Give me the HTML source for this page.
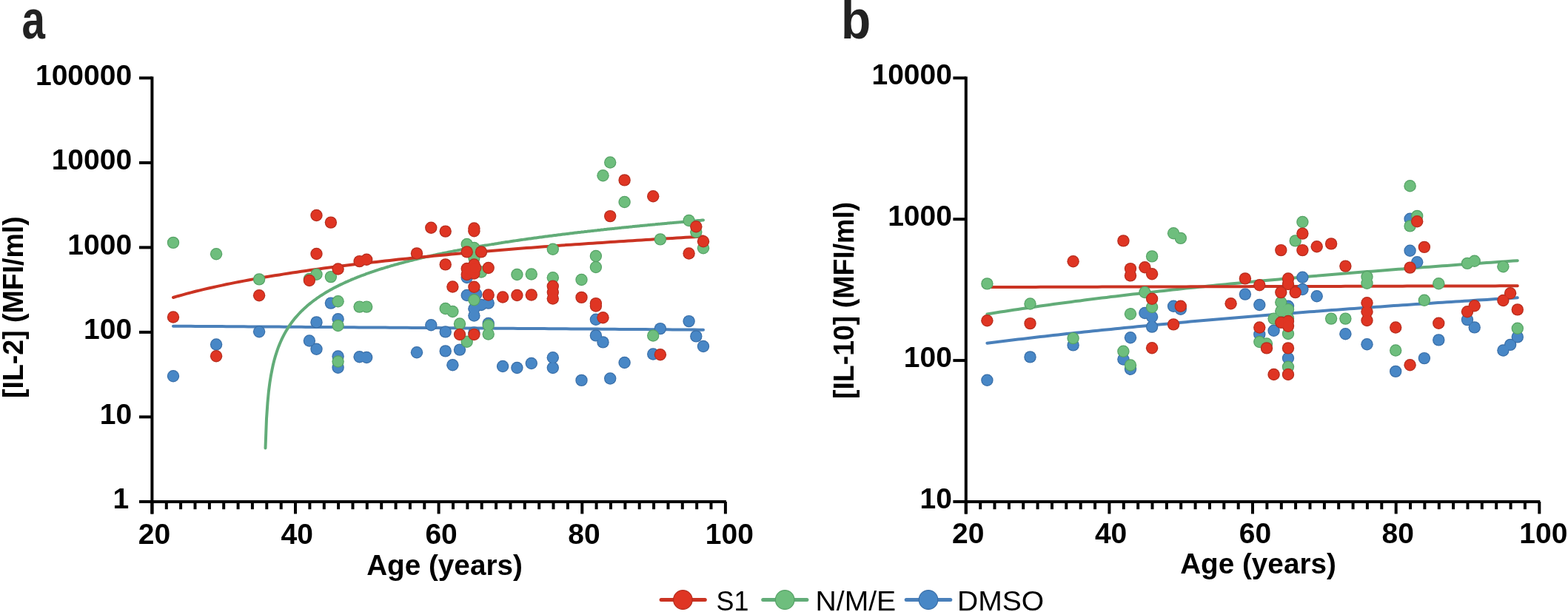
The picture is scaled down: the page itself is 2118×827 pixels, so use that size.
<!DOCTYPE html>
<html><head><meta charset="utf-8"><title>IL-2 and IL-10 vs Age</title>
<style>
html,body{margin:0;padding:0;background:#fff;width:2118px;height:827px;overflow:hidden}
svg{display:block}
.ax{stroke:#000;stroke-width:4;fill:none}
.tk{font-family:"Liberation Sans",Arial,sans-serif;font-weight:bold;font-size:39.0px;fill:#000}
.tx{font-family:"Liberation Sans",Arial,sans-serif;font-weight:bold;font-size:39.0px;fill:#000}
.ti{font-family:"Liberation Sans",Arial,sans-serif;font-weight:bold;font-size:39.0px;fill:#000}
.pl{font-family:"Liberation Sans",Arial,sans-serif;font-weight:bold;font-size:74.0px;fill:#222}
.lg{font-family:"Liberation Sans",Arial,sans-serif;font-size:37.0px;fill:#000}
</style></head><body>
<svg width="2118" height="827" viewBox="0 0 2118 827">
<text transform="translate(29.50 52) scale(0.764 1)" class="pl">a</text>
<text transform="translate(1136.00 52) scale(0.890 1)" class="pl">b</text>
<path d="M205.4 103.6 V694.4" class="ax"/><path d="M188.0 105.4 H205.4" class="ax"/><text x="178.1" y="114.6" class="tk" text-anchor="end">100000</text><path d="M188.0 219.9 H205.4" class="ax"/><text x="178.1" y="229.1" class="tk" text-anchor="end">10000</text><path d="M188.0 334.4 H205.4" class="ax"/><text x="178.1" y="343.6" class="tk" text-anchor="end">1000</text><path d="M188.0 448.9 H205.4" class="ax"/><text x="178.1" y="458.1" class="tk" text-anchor="end">100</text><path d="M188.0 563.4 H205.4" class="ax"/><text x="178.1" y="572.6" class="tk" text-anchor="end">10</text><path d="M188.0 677.9 H205.4" class="ax"/><text x="174.1" y="687.1" class="tk" text-anchor="end">1</text><path d="M203.6 677.9 H980.9" class="ax"/><path d="M205.4 677.9 V694.4" class="ax"/><path d="M224.8 677.9 V688.2" class="ax"/><path d="M244.1 677.9 V688.2" class="ax"/><path d="M263.5 677.9 V688.2" class="ax"/><path d="M282.9 677.9 V688.2" class="ax"/><path d="M302.2 677.9 V688.2" class="ax"/><path d="M321.6 677.9 V688.2" class="ax"/><path d="M340.9 677.9 V688.2" class="ax"/><path d="M360.3 677.9 V688.2" class="ax"/><path d="M379.7 677.9 V688.2" class="ax"/><path d="M399.0 677.9 V694.4" class="ax"/><path d="M418.4 677.9 V688.2" class="ax"/><path d="M437.8 677.9 V688.2" class="ax"/><path d="M457.1 677.9 V688.2" class="ax"/><path d="M476.5 677.9 V688.2" class="ax"/><path d="M495.8 677.9 V688.2" class="ax"/><path d="M515.2 677.9 V688.2" class="ax"/><path d="M534.6 677.9 V688.2" class="ax"/><path d="M553.9 677.9 V688.2" class="ax"/><path d="M573.3 677.9 V688.2" class="ax"/><path d="M592.6 677.9 V694.4" class="ax"/><path d="M612.0 677.9 V688.2" class="ax"/><path d="M631.4 677.9 V688.2" class="ax"/><path d="M650.7 677.9 V688.2" class="ax"/><path d="M670.1 677.9 V688.2" class="ax"/><path d="M689.5 677.9 V688.2" class="ax"/><path d="M708.8 677.9 V688.2" class="ax"/><path d="M728.2 677.9 V688.2" class="ax"/><path d="M747.5 677.9 V688.2" class="ax"/><path d="M766.9 677.9 V688.2" class="ax"/><path d="M786.3 677.9 V694.4" class="ax"/><path d="M805.6 677.9 V688.2" class="ax"/><path d="M825.0 677.9 V688.2" class="ax"/><path d="M844.4 677.9 V688.2" class="ax"/><path d="M863.7 677.9 V688.2" class="ax"/><path d="M883.1 677.9 V688.2" class="ax"/><path d="M902.5 677.9 V688.2" class="ax"/><path d="M921.8 677.9 V688.2" class="ax"/><path d="M941.2 677.9 V688.2" class="ax"/><path d="M960.5 677.9 V688.2" class="ax"/><path d="M979.9 677.9 V694.4" class="ax"/><text x="208.4" y="735.0" class="tx" text-anchor="middle">20</text><text x="401.2" y="735.0" class="tx" text-anchor="middle">40</text><text x="596.1" y="735.0" class="tx" text-anchor="middle">60</text><text x="788.9" y="735.0" class="tx" text-anchor="middle">80</text><text x="985.4" y="735.0" class="tx" text-anchor="middle">100</text>
<path d="M1304.8 103.6 V694.4" class="ax"/><path d="M1287.4 105.4 H1304.8" class="ax"/><text x="1285.9" y="114.0" class="tk" text-anchor="end">10000</text><path d="M1287.4 296.2 H1304.8" class="ax"/><text x="1285.9" y="304.8" class="tk" text-anchor="end">1000</text><path d="M1287.4 487.1 H1304.8" class="ax"/><text x="1285.9" y="495.7" class="tk" text-anchor="end">100</text><path d="M1287.4 677.9 H1304.8" class="ax"/><text x="1285.9" y="686.5" class="tk" text-anchor="end">10</text><path d="M1303.0 677.9 H2080.3" class="ax"/><path d="M1304.8 677.9 V694.4" class="ax"/><path d="M1324.2 677.9 V688.2" class="ax"/><path d="M1343.5 677.9 V688.2" class="ax"/><path d="M1362.9 677.9 V688.2" class="ax"/><path d="M1382.2 677.9 V688.2" class="ax"/><path d="M1401.6 677.9 V688.2" class="ax"/><path d="M1421.0 677.9 V688.2" class="ax"/><path d="M1440.3 677.9 V688.2" class="ax"/><path d="M1459.7 677.9 V688.2" class="ax"/><path d="M1479.1 677.9 V688.2" class="ax"/><path d="M1498.4 677.9 V694.4" class="ax"/><path d="M1517.8 677.9 V688.2" class="ax"/><path d="M1537.2 677.9 V688.2" class="ax"/><path d="M1556.5 677.9 V688.2" class="ax"/><path d="M1575.9 677.9 V688.2" class="ax"/><path d="M1595.2 677.9 V688.2" class="ax"/><path d="M1614.6 677.9 V688.2" class="ax"/><path d="M1634.0 677.9 V688.2" class="ax"/><path d="M1653.3 677.9 V688.2" class="ax"/><path d="M1672.7 677.9 V688.2" class="ax"/><path d="M1692.0 677.9 V694.4" class="ax"/><path d="M1711.4 677.9 V688.2" class="ax"/><path d="M1730.8 677.9 V688.2" class="ax"/><path d="M1750.1 677.9 V688.2" class="ax"/><path d="M1769.5 677.9 V688.2" class="ax"/><path d="M1788.9 677.9 V688.2" class="ax"/><path d="M1808.2 677.9 V688.2" class="ax"/><path d="M1827.6 677.9 V688.2" class="ax"/><path d="M1846.9 677.9 V688.2" class="ax"/><path d="M1866.3 677.9 V688.2" class="ax"/><path d="M1885.7 677.9 V694.4" class="ax"/><path d="M1905.0 677.9 V688.2" class="ax"/><path d="M1924.4 677.9 V688.2" class="ax"/><path d="M1943.8 677.9 V688.2" class="ax"/><path d="M1963.1 677.9 V688.2" class="ax"/><path d="M1982.5 677.9 V688.2" class="ax"/><path d="M2001.8 677.9 V688.2" class="ax"/><path d="M2021.2 677.9 V688.2" class="ax"/><path d="M2040.6 677.9 V688.2" class="ax"/><path d="M2059.9 677.9 V688.2" class="ax"/><path d="M2079.3 677.9 V694.4" class="ax"/><text x="1307.8" y="733.8" class="tx" text-anchor="middle">20</text><text x="1500.6" y="733.8" class="tx" text-anchor="middle">40</text><text x="1695.5" y="733.8" class="tx" text-anchor="middle">60</text><text x="1888.3" y="733.8" class="tx" text-anchor="middle">80</text><text x="2084.8" y="733.8" class="tx" text-anchor="middle">100</text>
<text x="600.5" y="776.5" class="ti" style="font-size:38.7px" text-anchor="middle">Age (years)</text>
<text x="1699.5" y="774.6" class="ti" style="font-size:38.7px" text-anchor="middle">Age (years)</text>
<text transform="translate(30.6 537.9) rotate(-90) scale(0.9610 1)" class="ti">[IL-2] (MFI/ml)</text>
<text transform="translate(1153.2 539.1) rotate(-90) scale(0.9610 1)" class="ti">[IL-10] (MFI/ml)</text>
<g fill="none" stroke-width="4.0" stroke-linecap="round">
<path d="M234.0,440.7 L240.0,440.7 L246.0,440.8 L251.9,440.8 L257.9,440.8 L263.9,440.9 L269.8,440.9 L275.8,441.0 L281.8,441.0 L287.7,441.0 L293.7,441.1 L299.7,441.1 L305.6,441.2 L311.6,441.2 L317.6,441.2 L323.5,441.3 L329.5,441.3 L335.5,441.4 L341.4,441.4 L347.4,441.4 L353.4,441.5 L359.3,441.5 L365.3,441.6 L371.2,441.6 L377.2,441.6 L383.2,441.7 L389.1,441.7 L395.1,441.8 L401.1,441.8 L407.0,441.8 L413.0,441.9 L419.0,441.9 L424.9,442.0 L430.9,442.0 L436.9,442.0 L442.8,442.1 L448.8,442.1 L454.8,442.2 L460.7,442.2 L466.7,442.3 L472.7,442.3 L478.6,442.3 L484.6,442.4 L490.6,442.4 L496.5,442.5 L502.5,442.5 L508.5,442.5 L514.4,442.6 L520.4,442.6 L526.4,442.7 L532.3,442.7 L538.3,442.7 L544.3,442.8 L550.2,442.8 L556.2,442.9 L562.2,442.9 L568.1,443.0 L574.1,443.0 L580.1,443.0 L586.0,443.1 L592.0,443.1 L598.0,443.2 L603.9,443.2 L609.9,443.2 L615.9,443.3 L621.8,443.3 L627.8,443.4 L633.8,443.4 L639.7,443.5 L645.7,443.5 L651.7,443.5 L657.6,443.6 L663.6,443.6 L669.6,443.7 L675.5,443.7 L681.5,443.8 L687.5,443.8 L693.4,443.8 L699.4,443.9 L705.4,443.9 L711.3,444.0 L717.3,444.0 L723.3,444.1 L729.2,444.1 L735.2,444.1 L741.2,444.2 L747.1,444.2 L753.1,444.3 L759.1,444.3 L765.0,444.3 L771.0,444.4 L777.0,444.4 L782.9,444.5 L788.9,444.5 L794.9,444.6 L800.8,444.6 L806.8,444.6 L812.8,444.7 L818.7,444.7 L824.7,444.8 L830.6,444.8 L836.6,444.9 L842.6,444.9 L848.5,445.0 L854.5,445.0 L860.5,445.0 L866.4,445.1 L872.4,445.1 L878.4,445.2 L884.3,445.2 L890.3,445.3 L896.3,445.3 L902.2,445.3 L908.2,445.4 L914.2,445.4 L920.1,445.5 L926.1,445.5 L932.1,445.6 L938.0,445.6 L944.0,445.7 L950.0,445.7" stroke="#4A80BA"/>
<path d="M358.5,605.5 L360.0,565.8 L361.5,544.0 L362.9,528.9 L364.4,517.3 L365.9,507.9 L367.4,500.1 L368.8,493.3 L370.3,487.3 L371.8,481.9 L373.3,477.1 L374.8,472.7 L376.2,468.7 L377.7,464.9 L379.2,461.5 L380.7,458.2 L382.2,455.2 L383.6,452.3 L385.1,449.6 L386.6,447.0 L388.1,444.6 L389.5,442.2 L391.0,440.0 L392.5,437.9 L394.0,435.8 L395.5,433.8 L396.9,432.0 L398.4,430.1 L399.9,428.4 L401.4,426.7 L402.9,425.0 L404.3,423.5 L405.8,421.9 L407.3,420.4 L408.8,419.0 L410.2,417.6 L411.7,416.2 L413.2,414.9 L414.7,413.6 L416.2,412.3 L417.6,411.1 L419.1,409.9 L420.6,408.7 L422.1,407.5 L423.6,406.4 L425.0,405.3 L426.5,404.3 L428.0,403.2 L429.5,402.2 L431.0,401.2 L432.4,400.2 L433.9,399.2 L435.4,398.3 L436.9,397.3 L438.3,396.4 L439.8,395.5 L441.3,394.6 L442.8,393.8 L444.3,392.9 L445.7,392.1 L447.2,391.2 L448.7,390.4 L450.2,389.6 L451.7,388.8 L453.1,388.1 L454.6,387.3 L456.1,386.6 L457.6,385.8 L459.0,385.1 L460.5,384.4 L462.0,383.7 L463.5,383.0 L465.0,382.3 L466.4,381.6 L467.9,380.9 L469.4,380.3 L470.9,379.6 L472.4,379.0 L473.8,378.4 L475.3,377.7 L476.8,377.1 L478.3,376.5 L479.7,375.9 L481.2,375.3 L482.7,374.7 L484.2,374.1 L485.7,373.5 L487.1,373.0 L488.6,372.4 L490.1,371.9 L491.6,371.3 L493.1,370.8 L494.5,370.2 L496.0,369.7 L497.5,369.2 L499.0,368.6 L500.4,368.1 L501.9,367.6 L503.4,367.1 L504.9,366.6 L506.4,366.1 L507.8,365.6 L509.3,365.1 L510.8,364.7 L512.3,364.2 L513.8,363.7 L515.2,363.2 L516.7,362.8 L518.2,362.3 L519.7,361.9 L521.2,361.4 L522.6,361.0 L524.1,360.5 L525.6,360.1 L527.1,359.6 L528.5,359.2 L530.0,358.8 L531.5,358.4 L533.0,357.9 L534.5,357.5 L535.9,357.1 L537.4,356.7 L538.9,356.3 L540.4,355.9 L541.9,355.5 L543.3,355.1 L544.8,354.7 L546.3,354.3 L547.8,353.9 L549.2,353.5 L550.7,353.2 L552.2,352.8 L553.7,352.4 L555.2,352.0 L556.6,351.7 L558.1,351.3 L559.6,350.9 L561.1,350.6 L562.6,350.2 L564.0,349.8 L565.5,349.5 L567.0,349.1 L568.5,348.8 L569.9,348.4 L571.4,348.1 L572.9,347.8 L574.4,347.4 L575.9,347.1 L577.3,346.7 L578.8,346.4 L580.3,346.1 L581.8,345.8 L583.3,345.4 L584.7,345.1 L586.2,344.8 L587.7,344.5 L589.2,344.1 L590.7,343.8 L592.1,343.5 L593.6,343.2 L595.1,342.9 L596.6,342.6 L598.0,342.3 L599.5,342.0 L601.0,341.7 L602.5,341.4 L604.0,341.1 L605.4,340.8 L606.9,340.5 L608.4,340.2 L609.9,339.9 L611.4,339.6 L612.8,339.3 L614.3,339.0 L615.8,338.7 L617.3,338.5 L618.7,338.2 L620.2,337.9 L621.7,337.6 L623.2,337.3 L624.7,337.1 L626.1,336.8 L627.6,336.5 L629.1,336.2 L630.6,336.0 L632.1,335.7 L633.5,335.4 L635.0,335.2 L636.5,334.9 L638.0,334.6 L639.4,334.4 L640.9,334.1 L642.4,333.9 L643.9,333.6 L645.4,333.4 L646.8,333.1 L648.3,332.8 L649.8,332.6 L651.3,332.3 L652.8,332.1 L654.2,331.8 L655.7,331.6 L657.2,331.4 L658.7,331.1 L660.1,330.9 L661.6,330.6 L663.1,330.4 L664.6,330.1 L666.1,329.9 L667.5,329.7 L669.0,329.4 L670.5,329.2 L672.0,329.0 L673.5,328.7 L674.9,328.5 L676.4,328.3 L677.9,328.0 L679.4,327.8 L680.9,327.6 L682.3,327.3 L683.8,327.1 L685.3,326.9 L686.8,326.7 L688.2,326.5 L689.7,326.2 L691.2,326.0 L692.7,325.8 L694.2,325.6 L695.6,325.4 L697.1,325.1 L698.6,324.9 L700.1,324.7 L701.6,324.5 L703.0,324.3 L704.5,324.1 L706.0,323.9 L707.5,323.6 L708.9,323.4 L710.4,323.2 L711.9,323.0 L713.4,322.8 L714.9,322.6 L716.3,322.4 L717.8,322.2 L719.3,322.0 L720.8,321.8 L722.3,321.6 L723.7,321.4 L725.2,321.2 L726.7,321.0 L728.2,320.8 L729.6,320.6 L731.1,320.4 L732.6,320.2 L734.1,320.0 L735.6,319.8 L737.0,319.6 L738.5,319.4 L740.0,319.2 L741.5,319.0 L743.0,318.8 L744.4,318.7 L745.9,318.5 L747.4,318.3 L748.9,318.1 L750.4,317.9 L751.8,317.7 L753.3,317.5 L754.8,317.3 L756.3,317.2 L757.7,317.0 L759.2,316.8 L760.7,316.6 L762.2,316.4 L763.7,316.2 L765.1,316.1 L766.6,315.9 L768.1,315.7 L769.6,315.5 L771.1,315.3 L772.5,315.2 L774.0,315.0 L775.5,314.8 L777.0,314.6 L778.4,314.5 L779.9,314.3 L781.4,314.1 L782.9,313.9 L784.4,313.8 L785.8,313.6 L787.3,313.4 L788.8,313.3 L790.3,313.1 L791.8,312.9 L793.2,312.8 L794.7,312.6 L796.2,312.4 L797.7,312.2 L799.1,312.1 L800.6,311.9 L802.1,311.7 L803.6,311.6 L805.1,311.4 L806.5,311.3 L808.0,311.1 L809.5,310.9 L811.0,310.8 L812.5,310.6 L813.9,310.4 L815.4,310.3 L816.9,310.1 L818.4,310.0 L819.8,309.8 L821.3,309.6 L822.8,309.5 L824.3,309.3 L825.8,309.2 L827.2,309.0 L828.7,308.9 L830.2,308.7 L831.7,308.5 L833.2,308.4 L834.6,308.2 L836.1,308.1 L837.6,307.9 L839.1,307.8 L840.6,307.6 L842.0,307.5 L843.5,307.3 L845.0,307.2 L846.5,307.0 L847.9,306.9 L849.4,306.7 L850.9,306.6 L852.4,306.4 L853.9,306.3 L855.3,306.1 L856.8,306.0 L858.3,305.8 L859.8,305.7 L861.3,305.5 L862.7,305.4 L864.2,305.2 L865.7,305.1 L867.2,305.0 L868.6,304.8 L870.1,304.7 L871.6,304.5 L873.1,304.4 L874.6,304.2 L876.0,304.1 L877.5,304.0 L879.0,303.8 L880.5,303.7 L882.0,303.5 L883.4,303.4 L884.9,303.3 L886.4,303.1 L887.9,303.0 L889.3,302.8 L890.8,302.7 L892.3,302.6 L893.8,302.4 L895.3,302.3 L896.7,302.2 L898.2,302.0 L899.7,301.9 L901.2,301.7 L902.7,301.6 L904.1,301.5 L905.6,301.3 L907.1,301.2 L908.6,301.1 L910.1,300.9 L911.5,300.8 L913.0,300.7 L914.5,300.5 L916.0,300.4 L917.4,300.3 L918.9,300.2 L920.4,300.0 L921.9,299.9 L923.4,299.8 L924.8,299.6 L926.3,299.5 L927.8,299.4 L929.3,299.2 L930.8,299.1 L932.2,299.0 L933.7,298.9 L935.2,298.7 L936.7,298.6 L938.1,298.5 L939.6,298.4 L941.1,298.2 L942.6,298.1 L944.1,298.0 L945.5,297.9 L947.0,297.7 L948.5,297.6 L950.0,297.5" stroke="#62AC78"/>
<path d="M234.0,402.0 L240.0,400.2 L246.0,398.6 L251.9,396.9 L257.9,395.4 L263.9,393.8 L269.8,392.4 L275.8,390.9 L281.8,389.5 L287.7,388.2 L293.7,386.9 L299.7,385.6 L305.6,384.3 L311.6,383.1 L317.6,381.9 L323.5,380.8 L329.5,379.6 L335.5,378.5 L341.4,377.4 L347.4,376.4 L353.4,375.3 L359.3,374.3 L365.3,373.3 L371.2,372.3 L377.2,371.4 L383.2,370.4 L389.1,369.5 L395.1,368.6 L401.1,367.7 L407.0,366.8 L413.0,365.9 L419.0,365.1 L424.9,364.3 L430.9,363.4 L436.9,362.6 L442.8,361.8 L448.8,361.1 L454.8,360.3 L460.7,359.5 L466.7,358.8 L472.7,358.1 L478.6,357.3 L484.6,356.6 L490.6,355.9 L496.5,355.2 L502.5,354.5 L508.5,353.9 L514.4,353.2 L520.4,352.5 L526.4,351.9 L532.3,351.3 L538.3,350.6 L544.3,350.0 L550.2,349.4 L556.2,348.8 L562.2,348.2 L568.1,347.6 L574.1,347.0 L580.1,346.4 L586.0,345.8 L592.0,345.3 L598.0,344.7 L603.9,344.2 L609.9,343.6 L615.9,343.1 L621.8,342.5 L627.8,342.0 L633.8,341.5 L639.7,341.0 L645.7,340.4 L651.7,339.9 L657.6,339.4 L663.6,338.9 L669.6,338.4 L675.5,338.0 L681.5,337.5 L687.5,337.0 L693.4,336.5 L699.4,336.0 L705.4,335.6 L711.3,335.1 L717.3,334.7 L723.3,334.2 L729.2,333.8 L735.2,333.3 L741.2,332.9 L747.1,332.4 L753.1,332.0 L759.1,331.6 L765.0,331.1 L771.0,330.7 L777.0,330.3 L782.9,329.9 L788.9,329.5 L794.9,329.1 L800.8,328.7 L806.8,328.3 L812.8,327.9 L818.7,327.5 L824.7,327.1 L830.6,326.7 L836.6,326.3 L842.6,325.9 L848.5,325.5 L854.5,325.2 L860.5,324.8 L866.4,324.4 L872.4,324.0 L878.4,323.7 L884.3,323.3 L890.3,323.0 L896.3,322.6 L902.2,322.2 L908.2,321.9 L914.2,321.5 L920.1,321.2 L926.1,320.8 L932.1,320.5 L938.0,320.2 L944.0,319.8 L950.0,319.5" stroke="#CA3322"/>
<path d="M1333.4,463.8 L1339.4,463.0 L1345.4,462.3 L1351.3,461.5 L1357.3,460.8 L1363.3,460.1 L1369.3,459.3 L1375.2,458.6 L1381.2,457.9 L1387.2,457.2 L1393.1,456.5 L1399.1,455.8 L1405.1,455.1 L1411.0,454.5 L1417.0,453.8 L1423.0,453.1 L1428.9,452.4 L1434.9,451.8 L1440.9,451.1 L1446.9,450.5 L1452.8,449.8 L1458.8,449.2 L1464.8,448.6 L1470.7,447.9 L1476.7,447.3 L1482.7,446.7 L1488.6,446.1 L1494.6,445.5 L1500.6,444.9 L1506.6,444.3 L1512.5,443.7 L1518.5,443.1 L1524.5,442.5 L1530.4,441.9 L1536.4,441.3 L1542.4,440.7 L1548.3,440.2 L1554.3,439.6 L1560.3,439.0 L1566.2,438.5 L1572.2,437.9 L1578.2,437.4 L1584.2,436.8 L1590.1,436.3 L1596.1,435.7 L1602.1,435.2 L1608.0,434.6 L1614.0,434.1 L1620.0,433.6 L1625.9,433.0 L1631.9,432.5 L1637.9,432.0 L1643.8,431.5 L1649.8,431.0 L1655.8,430.5 L1661.8,430.0 L1667.7,429.5 L1673.7,429.0 L1679.7,428.5 L1685.6,428.0 L1691.6,427.5 L1697.6,427.0 L1703.5,426.5 L1709.5,426.0 L1715.5,425.5 L1721.4,425.1 L1727.4,424.6 L1733.4,424.1 L1739.4,423.6 L1745.3,423.2 L1751.3,422.7 L1757.3,422.3 L1763.2,421.8 L1769.2,421.3 L1775.2,420.9 L1781.1,420.4 L1787.1,420.0 L1793.1,419.5 L1799.0,419.1 L1805.0,418.7 L1811.0,418.2 L1817.0,417.8 L1822.9,417.3 L1828.9,416.9 L1834.9,416.5 L1840.8,416.1 L1846.8,415.6 L1852.8,415.2 L1858.7,414.8 L1864.7,414.4 L1870.7,413.9 L1876.6,413.5 L1882.6,413.1 L1888.6,412.7 L1894.6,412.3 L1900.5,411.9 L1906.5,411.5 L1912.5,411.1 L1918.4,410.7 L1924.4,410.3 L1930.4,409.9 L1936.3,409.5 L1942.3,409.1 L1948.3,408.7 L1954.3,408.3 L1960.2,407.9 L1966.2,407.5 L1972.2,407.2 L1978.1,406.8 L1984.1,406.4 L1990.1,406.0 L1996.0,405.6 L2002.0,405.3 L2008.0,404.9 L2013.9,404.5 L2019.9,404.1 L2025.9,403.8 L2031.9,403.4 L2037.8,403.0 L2043.8,402.7 L2049.8,402.3" stroke="#4A80BA"/>
<path d="M1333.4,424.4 L1339.4,423.5 L1345.4,422.5 L1351.3,421.6 L1357.3,420.7 L1363.3,419.7 L1369.3,418.8 L1375.2,417.9 L1381.2,417.1 L1387.2,416.2 L1393.1,415.3 L1399.1,414.5 L1405.1,413.6 L1411.0,412.8 L1417.0,412.0 L1423.0,411.1 L1428.9,410.3 L1434.9,409.5 L1440.9,408.7 L1446.9,407.9 L1452.8,407.1 L1458.8,406.4 L1464.8,405.6 L1470.7,404.8 L1476.7,404.1 L1482.7,403.3 L1488.6,402.6 L1494.6,401.9 L1500.6,401.1 L1506.6,400.4 L1512.5,399.7 L1518.5,399.0 L1524.5,398.3 L1530.4,397.6 L1536.4,396.9 L1542.4,396.2 L1548.3,395.5 L1554.3,394.9 L1560.3,394.2 L1566.2,393.5 L1572.2,392.9 L1578.2,392.2 L1584.2,391.6 L1590.1,390.9 L1596.1,390.3 L1602.1,389.6 L1608.0,389.0 L1614.0,388.4 L1620.0,387.8 L1625.9,387.2 L1631.9,386.5 L1637.9,385.9 L1643.8,385.3 L1649.8,384.7 L1655.8,384.2 L1661.8,383.6 L1667.7,383.0 L1673.7,382.4 L1679.7,381.8 L1685.6,381.2 L1691.6,380.7 L1697.6,380.1 L1703.5,379.6 L1709.5,379.0 L1715.5,378.4 L1721.4,377.9 L1727.4,377.4 L1733.4,376.8 L1739.4,376.3 L1745.3,375.7 L1751.3,375.2 L1757.3,374.7 L1763.2,374.2 L1769.2,373.6 L1775.2,373.1 L1781.1,372.6 L1787.1,372.1 L1793.1,371.6 L1799.0,371.1 L1805.0,370.6 L1811.0,370.1 L1817.0,369.6 L1822.9,369.1 L1828.9,368.6 L1834.9,368.1 L1840.8,367.6 L1846.8,367.1 L1852.8,366.7 L1858.7,366.2 L1864.7,365.7 L1870.7,365.2 L1876.6,364.8 L1882.6,364.3 L1888.6,363.8 L1894.6,363.4 L1900.5,362.9 L1906.5,362.5 L1912.5,362.0 L1918.4,361.6 L1924.4,361.1 L1930.4,360.7 L1936.3,360.2 L1942.3,359.8 L1948.3,359.3 L1954.3,358.9 L1960.2,358.5 L1966.2,358.0 L1972.2,357.6 L1978.1,357.2 L1984.1,356.7 L1990.1,356.3 L1996.0,355.9 L2002.0,355.5 L2008.0,355.1 L2013.9,354.7 L2019.9,354.2 L2025.9,353.8 L2031.9,353.4 L2037.8,353.0 L2043.8,352.6 L2049.8,352.2" stroke="#62AC78"/>
<path d="M1333.4,388.0 L1339.4,388.0 L1345.4,388.0 L1351.3,388.0 L1357.3,388.0 L1363.3,387.9 L1369.3,387.9 L1375.2,387.9 L1381.2,387.9 L1387.2,387.9 L1393.1,387.9 L1399.1,387.9 L1405.1,387.8 L1411.0,387.8 L1417.0,387.8 L1423.0,387.8 L1428.9,387.8 L1434.9,387.8 L1440.9,387.8 L1446.9,387.7 L1452.8,387.7 L1458.8,387.7 L1464.8,387.7 L1470.7,387.7 L1476.7,387.7 L1482.7,387.7 L1488.6,387.6 L1494.6,387.6 L1500.6,387.6 L1506.6,387.6 L1512.5,387.6 L1518.5,387.6 L1524.5,387.6 L1530.4,387.5 L1536.4,387.5 L1542.4,387.5 L1548.3,387.5 L1554.3,387.5 L1560.3,387.5 L1566.2,387.4 L1572.2,387.4 L1578.2,387.4 L1584.2,387.4 L1590.1,387.4 L1596.1,387.4 L1602.1,387.4 L1608.0,387.3 L1614.0,387.3 L1620.0,387.3 L1625.9,387.3 L1631.9,387.3 L1637.9,387.3 L1643.8,387.3 L1649.8,387.2 L1655.8,387.2 L1661.8,387.2 L1667.7,387.2 L1673.7,387.2 L1679.7,387.2 L1685.6,387.2 L1691.6,387.1 L1697.6,387.1 L1703.5,387.1 L1709.5,387.1 L1715.5,387.1 L1721.4,387.1 L1727.4,387.1 L1733.4,387.0 L1739.4,387.0 L1745.3,387.0 L1751.3,387.0 L1757.3,387.0 L1763.2,387.0 L1769.2,387.0 L1775.2,386.9 L1781.1,386.9 L1787.1,386.9 L1793.1,386.9 L1799.0,386.9 L1805.0,386.9 L1811.0,386.9 L1817.0,386.8 L1822.9,386.8 L1828.9,386.8 L1834.9,386.8 L1840.8,386.8 L1846.8,386.8 L1852.8,386.8 L1858.7,386.7 L1864.7,386.7 L1870.7,386.7 L1876.6,386.7 L1882.6,386.7 L1888.6,386.7 L1894.6,386.7 L1900.5,386.6 L1906.5,386.6 L1912.5,386.6 L1918.4,386.6 L1924.4,386.6 L1930.4,386.6 L1936.3,386.6 L1942.3,386.5 L1948.3,386.5 L1954.3,386.5 L1960.2,386.5 L1966.2,386.5 L1972.2,386.5 L1978.1,386.5 L1984.1,386.4 L1990.1,386.4 L1996.0,386.4 L2002.0,386.4 L2008.0,386.4 L2013.9,386.4 L2019.9,386.4 L2025.9,386.3 L2031.9,386.3 L2037.8,386.3 L2043.8,386.3 L2049.8,386.3" stroke="#CA3322"/>
</g>
<g fill="#3A6FA8"><circle cx="234.0" cy="508.3" r="8.20"/><circle cx="292.1" cy="465.5" r="8.20"/><circle cx="350.1" cy="448.3" r="8.20"/><circle cx="446.9" cy="409.6" r="8.20"/><circle cx="427.5" cy="435.4" r="8.20"/><circle cx="456.6" cy="431.3" r="8.20"/><circle cx="417.9" cy="460.5" r="8.20"/><circle cx="427.5" cy="471.8" r="8.20"/><circle cx="456.6" cy="481.5" r="8.20"/><circle cx="456.6" cy="496.7" r="8.20"/><circle cx="485.6" cy="482.2" r="8.20"/><circle cx="495.2" cy="483.0" r="8.20"/><circle cx="563.0" cy="476.2" r="8.20"/><circle cx="582.3" cy="439.3" r="8.20"/><circle cx="601.7" cy="448.4" r="8.20"/><circle cx="601.7" cy="474.4" r="8.20"/><circle cx="621.0" cy="472.6" r="8.20"/><circle cx="611.4" cy="493.2" r="8.20"/><circle cx="630.7" cy="399.0" r="8.20"/><circle cx="643.3" cy="397.5" r="8.20"/><circle cx="659.7" cy="409.6" r="8.20"/><circle cx="650.0" cy="412.0" r="8.20"/><circle cx="640.4" cy="417.2" r="8.20"/><circle cx="640.4" cy="426.5" r="8.20"/><circle cx="630.7" cy="375.0" r="8.20"/><circle cx="659.7" cy="437.0" r="8.20"/><circle cx="640.4" cy="449.5" r="8.20"/><circle cx="679.1" cy="495.0" r="8.20"/><circle cx="698.4" cy="497.0" r="8.20"/><circle cx="717.8" cy="491.0" r="8.20"/><circle cx="746.8" cy="483.2" r="8.20"/><circle cx="746.8" cy="497.0" r="8.20"/><circle cx="785.5" cy="513.9" r="8.20"/><circle cx="824.2" cy="511.5" r="8.20"/><circle cx="843.6" cy="490.0" r="8.20"/><circle cx="804.9" cy="431.7" r="8.20"/><circle cx="804.9" cy="453.4" r="8.20"/><circle cx="814.5" cy="462.4" r="8.20"/><circle cx="930.6" cy="434.1" r="8.20"/><circle cx="891.9" cy="444.1" r="8.20"/><circle cx="940.3" cy="454.4" r="8.20"/><circle cx="950.0" cy="468.0" r="8.20"/><circle cx="882.2" cy="478.5" r="8.20"/></g>
<g fill="#4887C6"><circle cx="234.0" cy="508.3" r="7.00"/><circle cx="292.1" cy="465.5" r="7.00"/><circle cx="350.1" cy="448.3" r="7.00"/><circle cx="446.9" cy="409.6" r="7.00"/><circle cx="427.5" cy="435.4" r="7.00"/><circle cx="456.6" cy="431.3" r="7.00"/><circle cx="417.9" cy="460.5" r="7.00"/><circle cx="427.5" cy="471.8" r="7.00"/><circle cx="456.6" cy="481.5" r="7.00"/><circle cx="456.6" cy="496.7" r="7.00"/><circle cx="485.6" cy="482.2" r="7.00"/><circle cx="495.2" cy="483.0" r="7.00"/><circle cx="563.0" cy="476.2" r="7.00"/><circle cx="582.3" cy="439.3" r="7.00"/><circle cx="601.7" cy="448.4" r="7.00"/><circle cx="601.7" cy="474.4" r="7.00"/><circle cx="621.0" cy="472.6" r="7.00"/><circle cx="611.4" cy="493.2" r="7.00"/><circle cx="630.7" cy="399.0" r="7.00"/><circle cx="643.3" cy="397.5" r="7.00"/><circle cx="659.7" cy="409.6" r="7.00"/><circle cx="650.0" cy="412.0" r="7.00"/><circle cx="640.4" cy="417.2" r="7.00"/><circle cx="640.4" cy="426.5" r="7.00"/><circle cx="630.7" cy="375.0" r="7.00"/><circle cx="659.7" cy="437.0" r="7.00"/><circle cx="640.4" cy="449.5" r="7.00"/><circle cx="679.1" cy="495.0" r="7.00"/><circle cx="698.4" cy="497.0" r="7.00"/><circle cx="717.8" cy="491.0" r="7.00"/><circle cx="746.8" cy="483.2" r="7.00"/><circle cx="746.8" cy="497.0" r="7.00"/><circle cx="785.5" cy="513.9" r="7.00"/><circle cx="824.2" cy="511.5" r="7.00"/><circle cx="843.6" cy="490.0" r="7.00"/><circle cx="804.9" cy="431.7" r="7.00"/><circle cx="804.9" cy="453.4" r="7.00"/><circle cx="814.5" cy="462.4" r="7.00"/><circle cx="930.6" cy="434.1" r="7.00"/><circle cx="891.9" cy="444.1" r="7.00"/><circle cx="940.3" cy="454.4" r="7.00"/><circle cx="950.0" cy="468.0" r="7.00"/><circle cx="882.2" cy="478.5" r="7.00"/></g>
<g fill="#56A266"><circle cx="417.9" cy="377.0" r="8.20"/><circle cx="234.0" cy="327.9" r="8.20"/><circle cx="292.1" cy="343.3" r="8.20"/><circle cx="350.1" cy="377.4" r="8.20"/><circle cx="427.5" cy="370.8" r="8.20"/><circle cx="446.9" cy="374.1" r="8.20"/><circle cx="456.6" cy="407.2" r="8.20"/><circle cx="485.6" cy="414.6" r="8.20"/><circle cx="495.2" cy="414.6" r="8.20"/><circle cx="456.6" cy="440.0" r="8.20"/><circle cx="456.6" cy="488.5" r="8.20"/><circle cx="630.7" cy="330.0" r="8.20"/><circle cx="640.4" cy="335.0" r="8.20"/><circle cx="640.4" cy="348.5" r="8.20"/><circle cx="650.0" cy="367.5" r="8.20"/><circle cx="640.4" cy="405.3" r="8.20"/><circle cx="601.7" cy="417.0" r="8.20"/><circle cx="611.4" cy="421.0" r="8.20"/><circle cx="621.0" cy="437.5" r="8.20"/><circle cx="630.7" cy="461.7" r="8.20"/><circle cx="659.7" cy="439.5" r="8.20"/><circle cx="659.7" cy="451.5" r="8.20"/><circle cx="698.4" cy="371.0" r="8.20"/><circle cx="717.8" cy="370.5" r="8.20"/><circle cx="746.8" cy="336.8" r="8.20"/><circle cx="746.8" cy="375.2" r="8.20"/><circle cx="785.5" cy="378.0" r="8.20"/><circle cx="804.9" cy="346.0" r="8.20"/><circle cx="804.9" cy="361.0" r="8.20"/><circle cx="814.5" cy="237.2" r="8.20"/><circle cx="824.2" cy="219.5" r="8.20"/><circle cx="843.6" cy="273.0" r="8.20"/><circle cx="930.6" cy="298.0" r="8.20"/><circle cx="940.3" cy="313.5" r="8.20"/><circle cx="891.9" cy="323.4" r="8.20"/><circle cx="950.0" cy="335.2" r="8.20"/><circle cx="882.2" cy="453.5" r="8.20"/></g>
<g fill="#6EBE7D"><circle cx="417.9" cy="377.0" r="7.00"/><circle cx="234.0" cy="327.9" r="7.00"/><circle cx="292.1" cy="343.3" r="7.00"/><circle cx="350.1" cy="377.4" r="7.00"/><circle cx="427.5" cy="370.8" r="7.00"/><circle cx="446.9" cy="374.1" r="7.00"/><circle cx="456.6" cy="407.2" r="7.00"/><circle cx="485.6" cy="414.6" r="7.00"/><circle cx="495.2" cy="414.6" r="7.00"/><circle cx="456.6" cy="440.0" r="7.00"/><circle cx="456.6" cy="488.5" r="7.00"/><circle cx="630.7" cy="330.0" r="7.00"/><circle cx="640.4" cy="335.0" r="7.00"/><circle cx="640.4" cy="348.5" r="7.00"/><circle cx="650.0" cy="367.5" r="7.00"/><circle cx="640.4" cy="405.3" r="7.00"/><circle cx="601.7" cy="417.0" r="7.00"/><circle cx="611.4" cy="421.0" r="7.00"/><circle cx="621.0" cy="437.5" r="7.00"/><circle cx="630.7" cy="461.7" r="7.00"/><circle cx="659.7" cy="439.5" r="7.00"/><circle cx="659.7" cy="451.5" r="7.00"/><circle cx="698.4" cy="371.0" r="7.00"/><circle cx="717.8" cy="370.5" r="7.00"/><circle cx="746.8" cy="336.8" r="7.00"/><circle cx="746.8" cy="375.2" r="7.00"/><circle cx="785.5" cy="378.0" r="7.00"/><circle cx="804.9" cy="346.0" r="7.00"/><circle cx="804.9" cy="361.0" r="7.00"/><circle cx="814.5" cy="237.2" r="7.00"/><circle cx="824.2" cy="219.5" r="7.00"/><circle cx="843.6" cy="273.0" r="7.00"/><circle cx="930.6" cy="298.0" r="7.00"/><circle cx="940.3" cy="313.5" r="7.00"/><circle cx="891.9" cy="323.4" r="7.00"/><circle cx="950.0" cy="335.2" r="7.00"/><circle cx="882.2" cy="453.5" r="7.00"/></g>
<g fill="#B52D1E"><circle cx="234.0" cy="428.5" r="8.20"/><circle cx="292.1" cy="481.2" r="8.20"/><circle cx="350.1" cy="399.2" r="8.20"/><circle cx="427.5" cy="291.0" r="8.20"/><circle cx="446.9" cy="300.6" r="8.20"/><circle cx="427.5" cy="343.0" r="8.20"/><circle cx="456.6" cy="363.5" r="8.20"/><circle cx="485.6" cy="353.1" r="8.20"/><circle cx="495.2" cy="350.7" r="8.20"/><circle cx="563.0" cy="342.4" r="8.20"/><circle cx="417.9" cy="379.0" r="8.20"/><circle cx="582.3" cy="307.7" r="8.20"/><circle cx="601.7" cy="312.6" r="8.20"/><circle cx="640.4" cy="308.5" r="8.20"/><circle cx="640.4" cy="312.3" r="8.20"/><circle cx="630.7" cy="340.4" r="8.20"/><circle cx="650.0" cy="340.4" r="8.20"/><circle cx="601.7" cy="357.4" r="8.20"/><circle cx="640.4" cy="357.5" r="8.20"/><circle cx="630.7" cy="363.0" r="8.20"/><circle cx="630.7" cy="371.0" r="8.20"/><circle cx="640.4" cy="369.5" r="8.20"/><circle cx="636.5" cy="365.0" r="8.20"/><circle cx="642.3" cy="362.0" r="8.20"/><circle cx="659.7" cy="362.0" r="8.20"/><circle cx="611.4" cy="387.5" r="8.20"/><circle cx="640.4" cy="387.7" r="8.20"/><circle cx="659.7" cy="398.5" r="8.20"/><circle cx="679.1" cy="401.5" r="8.20"/><circle cx="698.4" cy="399.0" r="8.20"/><circle cx="717.8" cy="398.5" r="8.20"/><circle cx="621.0" cy="452.0" r="8.20"/><circle cx="640.4" cy="452.0" r="8.20"/><circle cx="746.8" cy="386.7" r="8.20"/><circle cx="746.8" cy="395.0" r="8.20"/><circle cx="746.8" cy="403.5" r="8.20"/><circle cx="785.5" cy="401.9" r="8.20"/><circle cx="804.9" cy="410.1" r="8.20"/><circle cx="804.9" cy="413.5" r="8.20"/><circle cx="814.5" cy="429.3" r="8.20"/><circle cx="843.6" cy="243.4" r="8.20"/><circle cx="882.2" cy="265.2" r="8.20"/><circle cx="824.2" cy="292.1" r="8.20"/><circle cx="940.3" cy="306.2" r="8.20"/><circle cx="950.0" cy="326.2" r="8.20"/><circle cx="930.6" cy="342.5" r="8.20"/><circle cx="891.9" cy="479.2" r="8.20"/></g>
<g fill="#DF3523"><circle cx="234.0" cy="428.5" r="7.00"/><circle cx="292.1" cy="481.2" r="7.00"/><circle cx="350.1" cy="399.2" r="7.00"/><circle cx="427.5" cy="291.0" r="7.00"/><circle cx="446.9" cy="300.6" r="7.00"/><circle cx="427.5" cy="343.0" r="7.00"/><circle cx="456.6" cy="363.5" r="7.00"/><circle cx="485.6" cy="353.1" r="7.00"/><circle cx="495.2" cy="350.7" r="7.00"/><circle cx="563.0" cy="342.4" r="7.00"/><circle cx="417.9" cy="379.0" r="7.00"/><circle cx="582.3" cy="307.7" r="7.00"/><circle cx="601.7" cy="312.6" r="7.00"/><circle cx="640.4" cy="308.5" r="7.00"/><circle cx="640.4" cy="312.3" r="7.00"/><circle cx="630.7" cy="340.4" r="7.00"/><circle cx="650.0" cy="340.4" r="7.00"/><circle cx="601.7" cy="357.4" r="7.00"/><circle cx="640.4" cy="357.5" r="7.00"/><circle cx="630.7" cy="363.0" r="7.00"/><circle cx="630.7" cy="371.0" r="7.00"/><circle cx="640.4" cy="369.5" r="7.00"/><circle cx="636.5" cy="365.0" r="7.00"/><circle cx="642.3" cy="362.0" r="7.00"/><circle cx="659.7" cy="362.0" r="7.00"/><circle cx="611.4" cy="387.5" r="7.00"/><circle cx="640.4" cy="387.7" r="7.00"/><circle cx="659.7" cy="398.5" r="7.00"/><circle cx="679.1" cy="401.5" r="7.00"/><circle cx="698.4" cy="399.0" r="7.00"/><circle cx="717.8" cy="398.5" r="7.00"/><circle cx="621.0" cy="452.0" r="7.00"/><circle cx="640.4" cy="452.0" r="7.00"/><circle cx="746.8" cy="386.7" r="7.00"/><circle cx="746.8" cy="395.0" r="7.00"/><circle cx="746.8" cy="403.5" r="7.00"/><circle cx="785.5" cy="401.9" r="7.00"/><circle cx="804.9" cy="410.1" r="7.00"/><circle cx="804.9" cy="413.5" r="7.00"/><circle cx="814.5" cy="429.3" r="7.00"/><circle cx="843.6" cy="243.4" r="7.00"/><circle cx="882.2" cy="265.2" r="7.00"/><circle cx="824.2" cy="292.1" r="7.00"/><circle cx="940.3" cy="306.2" r="7.00"/><circle cx="950.0" cy="326.2" r="7.00"/><circle cx="930.6" cy="342.5" r="7.00"/><circle cx="891.9" cy="479.2" r="7.00"/></g>
<g fill="#3A6FA8"><circle cx="1333.4" cy="513.8" r="8.20"/><circle cx="1391.5" cy="482.4" r="8.20"/><circle cx="1449.6" cy="466.4" r="8.20"/><circle cx="1546.4" cy="423.0" r="8.20"/><circle cx="1556.1" cy="428.3" r="8.20"/><circle cx="1556.1" cy="441.6" r="8.20"/><circle cx="1585.1" cy="413.7" r="8.20"/><circle cx="1594.8" cy="417.7" r="8.20"/><circle cx="1527.0" cy="456.2" r="8.20"/><circle cx="1517.4" cy="485.5" r="8.20"/><circle cx="1527.0" cy="498.8" r="8.20"/><circle cx="1681.9" cy="397.6" r="8.20"/><circle cx="1759.4" cy="374.8" r="8.20"/><circle cx="1759.4" cy="391.0" r="8.20"/><circle cx="1778.7" cy="400.2" r="8.20"/><circle cx="1701.3" cy="412.0" r="8.20"/><circle cx="1740.0" cy="413.7" r="8.20"/><circle cx="1720.6" cy="446.7" r="8.20"/><circle cx="1701.3" cy="451.8" r="8.20"/><circle cx="1740.0" cy="484.0" r="8.20"/><circle cx="1904.6" cy="295.8" r="8.20"/><circle cx="1904.6" cy="338.7" r="8.20"/><circle cx="1914.2" cy="354.2" r="8.20"/><circle cx="1817.4" cy="451.3" r="8.20"/><circle cx="1846.5" cy="465.2" r="8.20"/><circle cx="1943.3" cy="459.4" r="8.20"/><circle cx="1923.9" cy="484.1" r="8.20"/><circle cx="1885.2" cy="501.9" r="8.20"/><circle cx="1982.0" cy="432.1" r="8.20"/><circle cx="1991.7" cy="442.4" r="8.20"/><circle cx="2049.8" cy="455.4" r="8.20"/><circle cx="2040.1" cy="465.9" r="8.20"/><circle cx="2030.4" cy="473.5" r="8.20"/></g>
<g fill="#4887C6"><circle cx="1333.4" cy="513.8" r="7.00"/><circle cx="1391.5" cy="482.4" r="7.00"/><circle cx="1449.6" cy="466.4" r="7.00"/><circle cx="1546.4" cy="423.0" r="7.00"/><circle cx="1556.1" cy="428.3" r="7.00"/><circle cx="1556.1" cy="441.6" r="7.00"/><circle cx="1585.1" cy="413.7" r="7.00"/><circle cx="1594.8" cy="417.7" r="7.00"/><circle cx="1527.0" cy="456.2" r="7.00"/><circle cx="1517.4" cy="485.5" r="7.00"/><circle cx="1527.0" cy="498.8" r="7.00"/><circle cx="1681.9" cy="397.6" r="7.00"/><circle cx="1759.4" cy="374.8" r="7.00"/><circle cx="1759.4" cy="391.0" r="7.00"/><circle cx="1778.7" cy="400.2" r="7.00"/><circle cx="1701.3" cy="412.0" r="7.00"/><circle cx="1740.0" cy="413.7" r="7.00"/><circle cx="1720.6" cy="446.7" r="7.00"/><circle cx="1701.3" cy="451.8" r="7.00"/><circle cx="1740.0" cy="484.0" r="7.00"/><circle cx="1904.6" cy="295.8" r="7.00"/><circle cx="1904.6" cy="338.7" r="7.00"/><circle cx="1914.2" cy="354.2" r="7.00"/><circle cx="1817.4" cy="451.3" r="7.00"/><circle cx="1846.5" cy="465.2" r="7.00"/><circle cx="1943.3" cy="459.4" r="7.00"/><circle cx="1923.9" cy="484.1" r="7.00"/><circle cx="1885.2" cy="501.9" r="7.00"/><circle cx="1982.0" cy="432.1" r="7.00"/><circle cx="1991.7" cy="442.4" r="7.00"/><circle cx="2049.8" cy="455.4" r="7.00"/><circle cx="2040.1" cy="465.9" r="7.00"/><circle cx="2030.4" cy="473.5" r="7.00"/></g>
<g fill="#56A266"><circle cx="1333.4" cy="383.4" r="8.20"/><circle cx="1391.5" cy="410.5" r="8.20"/><circle cx="1449.6" cy="457.1" r="8.20"/><circle cx="1585.1" cy="315.3" r="8.20"/><circle cx="1594.8" cy="321.9" r="8.20"/><circle cx="1556.1" cy="346.4" r="8.20"/><circle cx="1546.4" cy="395.0" r="8.20"/><circle cx="1556.1" cy="415.0" r="8.20"/><circle cx="1527.0" cy="424.3" r="8.20"/><circle cx="1517.4" cy="474.8" r="8.20"/><circle cx="1527.0" cy="493.5" r="8.20"/><circle cx="1759.4" cy="300.0" r="8.20"/><circle cx="1749.7" cy="325.4" r="8.20"/><circle cx="1730.3" cy="408.5" r="8.20"/><circle cx="1740.0" cy="418.0" r="8.20"/><circle cx="1730.3" cy="420.5" r="8.20"/><circle cx="1720.6" cy="430.6" r="8.20"/><circle cx="1740.0" cy="430.0" r="8.20"/><circle cx="1740.0" cy="451.0" r="8.20"/><circle cx="1701.3" cy="462.0" r="8.20"/><circle cx="1711.0" cy="464.5" r="8.20"/><circle cx="1740.0" cy="495.8" r="8.20"/><circle cx="1798.1" cy="430.6" r="8.20"/><circle cx="1817.4" cy="430.6" r="8.20"/><circle cx="1904.6" cy="251.3" r="8.20"/><circle cx="1914.2" cy="291.9" r="8.20"/><circle cx="1904.6" cy="305.4" r="8.20"/><circle cx="1846.5" cy="374.0" r="8.20"/><circle cx="1846.5" cy="382.7" r="8.20"/><circle cx="1943.3" cy="383.2" r="8.20"/><circle cx="1923.9" cy="405.8" r="8.20"/><circle cx="1885.2" cy="473.5" r="8.20"/><circle cx="1982.0" cy="355.9" r="8.20"/><circle cx="1991.7" cy="352.7" r="8.20"/><circle cx="2030.4" cy="360.3" r="8.20"/><circle cx="2049.8" cy="443.7" r="8.20"/></g>
<g fill="#6EBE7D"><circle cx="1333.4" cy="383.4" r="7.00"/><circle cx="1391.5" cy="410.5" r="7.00"/><circle cx="1449.6" cy="457.1" r="7.00"/><circle cx="1585.1" cy="315.3" r="7.00"/><circle cx="1594.8" cy="321.9" r="7.00"/><circle cx="1556.1" cy="346.4" r="7.00"/><circle cx="1546.4" cy="395.0" r="7.00"/><circle cx="1556.1" cy="415.0" r="7.00"/><circle cx="1527.0" cy="424.3" r="7.00"/><circle cx="1517.4" cy="474.8" r="7.00"/><circle cx="1527.0" cy="493.5" r="7.00"/><circle cx="1759.4" cy="300.0" r="7.00"/><circle cx="1749.7" cy="325.4" r="7.00"/><circle cx="1730.3" cy="408.5" r="7.00"/><circle cx="1740.0" cy="418.0" r="7.00"/><circle cx="1730.3" cy="420.5" r="7.00"/><circle cx="1720.6" cy="430.6" r="7.00"/><circle cx="1740.0" cy="430.0" r="7.00"/><circle cx="1740.0" cy="451.0" r="7.00"/><circle cx="1701.3" cy="462.0" r="7.00"/><circle cx="1711.0" cy="464.5" r="7.00"/><circle cx="1740.0" cy="495.8" r="7.00"/><circle cx="1798.1" cy="430.6" r="7.00"/><circle cx="1817.4" cy="430.6" r="7.00"/><circle cx="1904.6" cy="251.3" r="7.00"/><circle cx="1914.2" cy="291.9" r="7.00"/><circle cx="1904.6" cy="305.4" r="7.00"/><circle cx="1846.5" cy="374.0" r="7.00"/><circle cx="1846.5" cy="382.7" r="7.00"/><circle cx="1943.3" cy="383.2" r="7.00"/><circle cx="1923.9" cy="405.8" r="7.00"/><circle cx="1885.2" cy="473.5" r="7.00"/><circle cx="1982.0" cy="355.9" r="7.00"/><circle cx="1991.7" cy="352.7" r="7.00"/><circle cx="2030.4" cy="360.3" r="7.00"/><circle cx="2049.8" cy="443.7" r="7.00"/></g>
<g fill="#B52D1E"><circle cx="1449.6" cy="353.3" r="8.20"/><circle cx="1333.4" cy="433.2" r="8.20"/><circle cx="1391.5" cy="437.1" r="8.20"/><circle cx="1517.4" cy="325.4" r="8.20"/><circle cx="1527.0" cy="363.1" r="8.20"/><circle cx="1527.0" cy="372.4" r="8.20"/><circle cx="1546.4" cy="361.3" r="8.20"/><circle cx="1556.1" cy="370.3" r="8.20"/><circle cx="1556.1" cy="403.8" r="8.20"/><circle cx="1594.8" cy="413.7" r="8.20"/><circle cx="1585.1" cy="438.4" r="8.20"/><circle cx="1556.1" cy="470.3" r="8.20"/><circle cx="1681.9" cy="376.4" r="8.20"/><circle cx="1662.6" cy="410.2" r="8.20"/><circle cx="1759.4" cy="315.6" r="8.20"/><circle cx="1730.3" cy="338.1" r="8.20"/><circle cx="1759.4" cy="338.1" r="8.20"/><circle cx="1778.7" cy="333.3" r="8.20"/><circle cx="1798.1" cy="329.4" r="8.20"/><circle cx="1817.4" cy="359.6" r="8.20"/><circle cx="1701.3" cy="385.3" r="8.20"/><circle cx="1740.0" cy="376.5" r="8.20"/><circle cx="1740.0" cy="384.0" r="8.20"/><circle cx="1730.3" cy="395.1" r="8.20"/><circle cx="1749.7" cy="395.1" r="8.20"/><circle cx="1730.3" cy="435.7" r="8.20"/><circle cx="1740.0" cy="434.0" r="8.20"/><circle cx="1740.0" cy="440.8" r="8.20"/><circle cx="1701.3" cy="442.5" r="8.20"/><circle cx="1711.0" cy="470.4" r="8.20"/><circle cx="1740.0" cy="470.4" r="8.20"/><circle cx="1740.0" cy="506.0" r="8.20"/><circle cx="1720.6" cy="506.0" r="8.20"/><circle cx="1914.2" cy="299.3" r="8.20"/><circle cx="1923.9" cy="333.9" r="8.20"/><circle cx="1904.6" cy="361.6" r="8.20"/><circle cx="1846.5" cy="409.3" r="8.20"/><circle cx="1846.5" cy="421.3" r="8.20"/><circle cx="1846.5" cy="433.0" r="8.20"/><circle cx="1885.2" cy="442.5" r="8.20"/><circle cx="1943.3" cy="436.7" r="8.20"/><circle cx="1904.6" cy="493.2" r="8.20"/><circle cx="2040.1" cy="396.2" r="8.20"/><circle cx="2030.4" cy="406.0" r="8.20"/><circle cx="1982.0" cy="421.2" r="8.20"/><circle cx="1991.7" cy="413.2" r="8.20"/><circle cx="2049.8" cy="418.4" r="8.20"/></g>
<g fill="#DF3523"><circle cx="1449.6" cy="353.3" r="7.00"/><circle cx="1333.4" cy="433.2" r="7.00"/><circle cx="1391.5" cy="437.1" r="7.00"/><circle cx="1517.4" cy="325.4" r="7.00"/><circle cx="1527.0" cy="363.1" r="7.00"/><circle cx="1527.0" cy="372.4" r="7.00"/><circle cx="1546.4" cy="361.3" r="7.00"/><circle cx="1556.1" cy="370.3" r="7.00"/><circle cx="1556.1" cy="403.8" r="7.00"/><circle cx="1594.8" cy="413.7" r="7.00"/><circle cx="1585.1" cy="438.4" r="7.00"/><circle cx="1556.1" cy="470.3" r="7.00"/><circle cx="1681.9" cy="376.4" r="7.00"/><circle cx="1662.6" cy="410.2" r="7.00"/><circle cx="1759.4" cy="315.6" r="7.00"/><circle cx="1730.3" cy="338.1" r="7.00"/><circle cx="1759.4" cy="338.1" r="7.00"/><circle cx="1778.7" cy="333.3" r="7.00"/><circle cx="1798.1" cy="329.4" r="7.00"/><circle cx="1817.4" cy="359.6" r="7.00"/><circle cx="1701.3" cy="385.3" r="7.00"/><circle cx="1740.0" cy="376.5" r="7.00"/><circle cx="1740.0" cy="384.0" r="7.00"/><circle cx="1730.3" cy="395.1" r="7.00"/><circle cx="1749.7" cy="395.1" r="7.00"/><circle cx="1730.3" cy="435.7" r="7.00"/><circle cx="1740.0" cy="434.0" r="7.00"/><circle cx="1740.0" cy="440.8" r="7.00"/><circle cx="1701.3" cy="442.5" r="7.00"/><circle cx="1711.0" cy="470.4" r="7.00"/><circle cx="1740.0" cy="470.4" r="7.00"/><circle cx="1740.0" cy="506.0" r="7.00"/><circle cx="1720.6" cy="506.0" r="7.00"/><circle cx="1914.2" cy="299.3" r="7.00"/><circle cx="1923.9" cy="333.9" r="7.00"/><circle cx="1904.6" cy="361.6" r="7.00"/><circle cx="1846.5" cy="409.3" r="7.00"/><circle cx="1846.5" cy="421.3" r="7.00"/><circle cx="1846.5" cy="433.0" r="7.00"/><circle cx="1885.2" cy="442.5" r="7.00"/><circle cx="1943.3" cy="436.7" r="7.00"/><circle cx="1904.6" cy="493.2" r="7.00"/><circle cx="2040.1" cy="396.2" r="7.00"/><circle cx="2030.4" cy="406.0" r="7.00"/><circle cx="1982.0" cy="421.2" r="7.00"/><circle cx="1991.7" cy="413.2" r="7.00"/><circle cx="2049.8" cy="418.4" r="7.00"/></g>
<path d="M893.1 810.5 H952.3" stroke="#CA3322" stroke-width="5" stroke-linecap="round"/><circle cx="922.4" cy="810.5" r="12.8" fill="#DF3523" stroke="#B52D1E" stroke-width="1.2"/><text transform="translate(967.5 824.5) scale(0.970 1)" class="lg">S1</text>
<path d="M1030.7 810.5 H1089.9" stroke="#62AC78" stroke-width="5" stroke-linecap="round"/><circle cx="1060.2" cy="810.5" r="12.8" fill="#6EBE7D" stroke="#56A266" stroke-width="1.2"/><text transform="translate(1101.5 824.5) scale(1.058 1)" class="lg">N/M/E</text>
<path d="M1224.2 810.5 H1283.8" stroke="#4A80BA" stroke-width="5" stroke-linecap="round"/><circle cx="1254.0" cy="810.5" r="12.8" fill="#4887C6" stroke="#3A6FA8" stroke-width="1.2"/><text transform="translate(1293.0 824.5) scale(1.057 1)" class="lg">DMSO</text>
</svg>
</body></html>
